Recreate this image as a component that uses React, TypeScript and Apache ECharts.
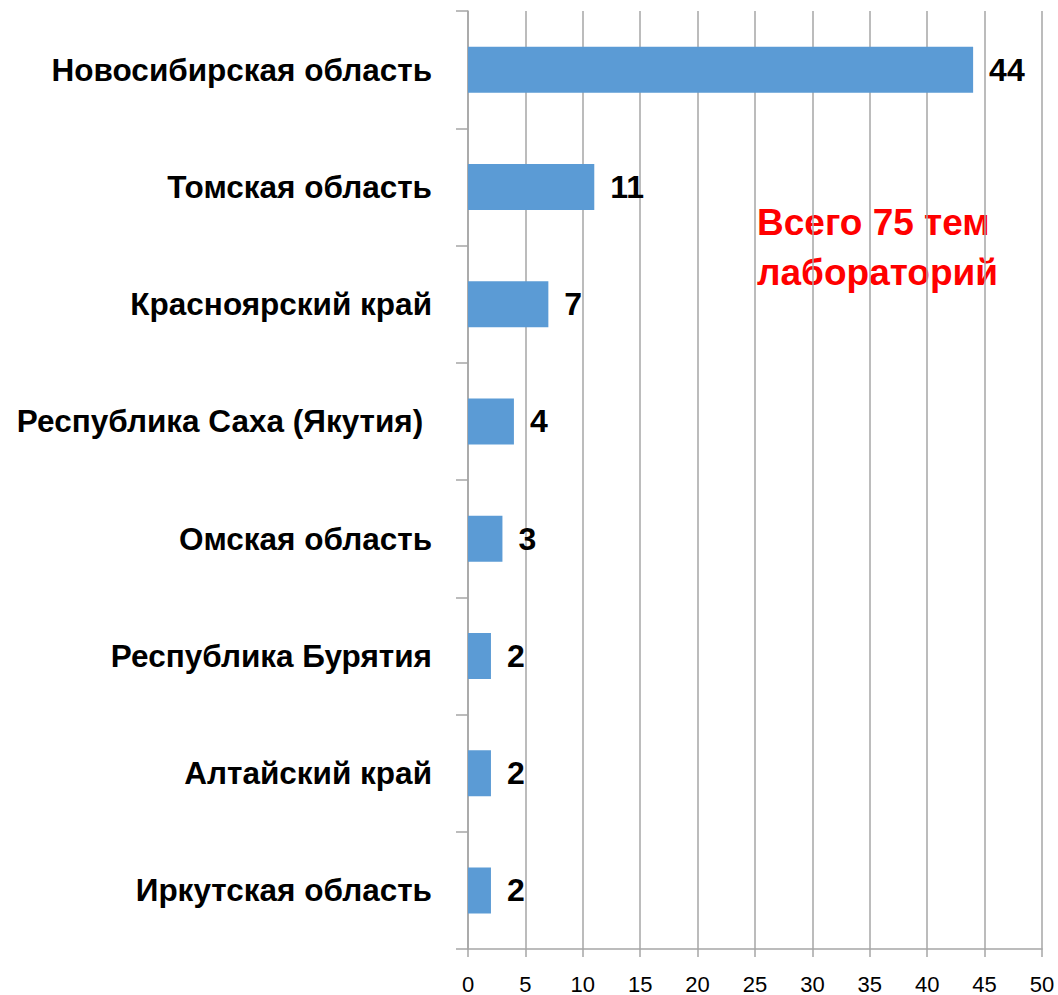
import React, { useEffect, useRef } from "react";
import * as echarts from "echarts";

const categories = [
  "Новосибирская область",
  "Томская область",
  "Красноярский край",
  "Республика Саха (Якутия) ",
  "Омская область",
  "Республика Бурятия",
  "Алтайский край",
  "Иркутская область",
];
const values = [44, 11, 7, 4, 3, 2, 2, 2];
const xMin = 0;
const xMax = 50;
const xInterval = 5;
const noteLines = ["Всего 75 тем", "лабораторий"];

export default function App() {
  const ref = useRef<HTMLDivElement>(null);
  useEffect(() => {
    if (!ref.current) return;
    const chart = echarts.init(ref.current, undefined, { renderer: "svg" });
    const font = "'Liberation Sans', Arial, sans-serif";
    chart.setOption({
      animation: false,
      backgroundColor: "#ffffff",
      grid: { left: 468, top: 11, right: 16, bottom: 46, containLabel: false },
      xAxis: {
        type: "value",
        min: xMin,
        max: xMax,
        interval: xInterval,
        axisLine: { show: true, lineStyle: { color: "#a6a6a6", width: 1.5 } },
        axisTick: { show: true, length: 8, lineStyle: { color: "#a6a6a6", width: 1.5 } },
        splitLine: { show: true, lineStyle: { color: "#a6a6a6", width: 1.5 } },
        axisLabel: { color: "#000", fontSize: 22, fontFamily: font, margin: 24 },
      },
      yAxis: {
        type: "category",
        inverse: true,
        data: categories,
        axisLine: { show: true, lineStyle: { color: "#a6a6a6", width: 1.5 } },
        axisTick: { show: true, length: 12, inside: false, lineStyle: { color: "#a6a6a6", width: 1.5 } },
        axisLabel: {
          color: "#000",
          fontSize: 31.5,
          fontWeight: "bold",
          fontFamily: font,
          margin: 36,
        },
      },
      series: [
        {
          type: "bar",
          data: values,
          barWidth: 46,
          itemStyle: { color: "#5b9bd5" },
          label: {
            show: true,
            position: "right",
            distance: 16,
            color: "#000",
            fontSize: 32,
            fontWeight: "bold",
            fontFamily: font,
          },
        },
      ],
      graphic: [
        {
          type: "text",
          left: 757,
          top: 197,
          style: {
            text: noteLines.join("\n"),
            fill: "#ff0000",
            font: `bold 37px ${font}`,
            lineHeight: 50,
          },
        },
      ],
    });
    return () => chart.dispose();
  }, []);
  return (
    <div
      ref={ref}
      style={{ position: "absolute", left: 0, top: 0, width: 1058, height: 995 }}
    />
  );
}
